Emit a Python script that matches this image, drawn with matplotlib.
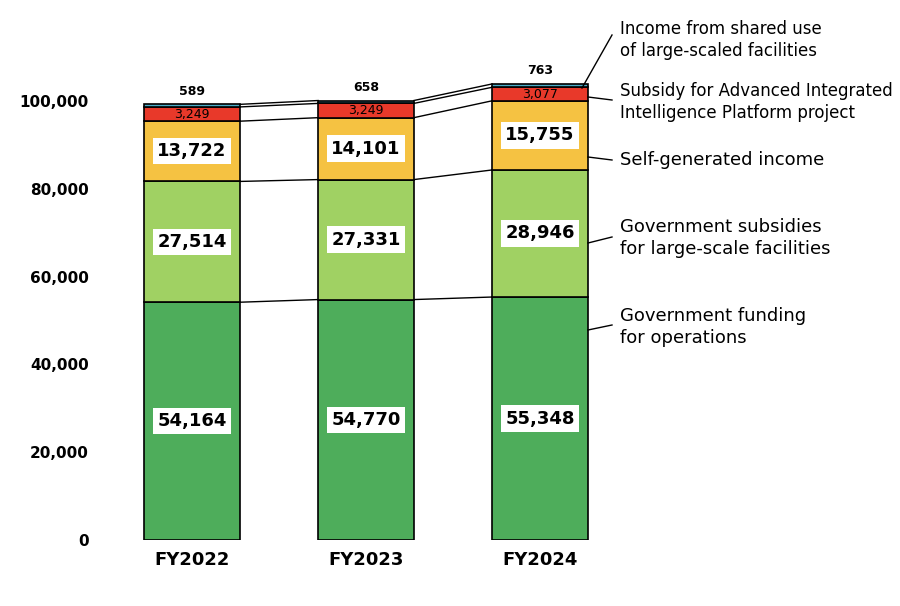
import matplotlib
matplotlib.use("Agg")
import matplotlib.pyplot as plt
import numpy as np

categories = ["FY2022", "FY2023", "FY2024"]
gov_funding = [54164, 54770, 55348]
gov_subsidies = [27514, 27331, 28946]
self_income = [13722, 14101, 15755]
aiip = [3249, 3249, 3077]
shared = [589, 658, 763]
series = [gov_funding, gov_subsidies, self_income, aiip, shared]
colors = ["#4EAD5B", "#A0D163", "#F5C242", "#E8392A", "#4BACC6"]
names = ["Government funding\nfor operations",
         "Government subsidies\nfor large-scale facilities",
         "Self-generated income",
         "Subsidy for Advanced Integrated\nIntelligence Platform project",
         "Income from shared use\nof large-scaled facilities"]
yticks = [0, 20000, 40000, 60000, 80000, 100000]

W, H = 900, 606
fig = plt.figure(figsize=(9, 6.06), dpi=100)
x0 = -(192 - 100) / 174
ax = fig.add_axes([100 / W, 1 - 540 / H, 700 / W, 540 / H])
ax.set_xlim(x0, x0 + 700 / 174)
ax.set_ylim(0, 540 / 4.39 * 1000)
for s in ax.spines.values():
    s.set_visible(False)
ax.set_yticks(yticks)
ax.set_yticklabels([f"{v:,}" for v in yticks], fontsize=11, fontweight="bold")
x = np.arange(len(categories))
ax.set_xticks(x)
ax.set_xticklabels(categories, fontsize=13, fontweight="bold")
ax.tick_params(length=0, pad=8)

def px(xp, yp):
    return x0 + (xp - 100) / 174, (540 - yp) / 4.39 * 1000

w = 0.55
bottom = np.zeros(3)
tops = []
for i, (vals, c) in enumerate(zip(series, colors)):
    vals = np.array(vals, float)
    ax.bar(x, vals, w, bottom=bottom, color=c, edgecolor="black", linewidth=1.2, zorder=2)
    for j in range(3):
        mid = bottom[j] + vals[j] / 2
        if i < 3:
            ax.text(x[j], mid, f"{int(vals[j]):,}", ha="center", va="center", fontsize=13,
                    fontweight="bold", bbox=dict(facecolor="white", edgecolor="none", pad=3), zorder=3)
        elif i == 3:
            ax.text(x[j], mid, f"{int(vals[j]):,}", ha="center", va="center", fontsize=9, zorder=3)
        else:
            ax.text(x[j], bottom[j] + vals[j] + 1500, f"{int(vals[j]):,}", ha="center", va="bottom",
                    fontsize=9, fontweight="bold", zorder=3)
    bottom = bottom + vals
    tops.append(bottom.copy())
for t in tops:
    for j in range(2):
        ax.plot([x[j] + w / 2, x[j + 1] - w / 2], [t[j], t[j + 1]], color="black", lw=1, zorder=1)

ann = [((588, 330), (612, 325), 327),
       ((588, 243), (612, 237), 238),
       ((588, 157), (612, 160), 160),
       ((588, 97), (612, 100), 102),
       ((582, 88), (612, 35), 40)]
for name, (a, b, ty) in zip(names, ann):
    ax.plot(*zip(px(*a), px(*b)), color="black", lw=1, clip_on=False)
    tx, tyd = px(620, ty)
    ax.text(tx, tyd, name, ha="left", va="center", fontsize=13 if "\n" not in name or "Gov" in name else 12,
            linespacing=1.35)
fig.savefig("out.png", dpi=100)
